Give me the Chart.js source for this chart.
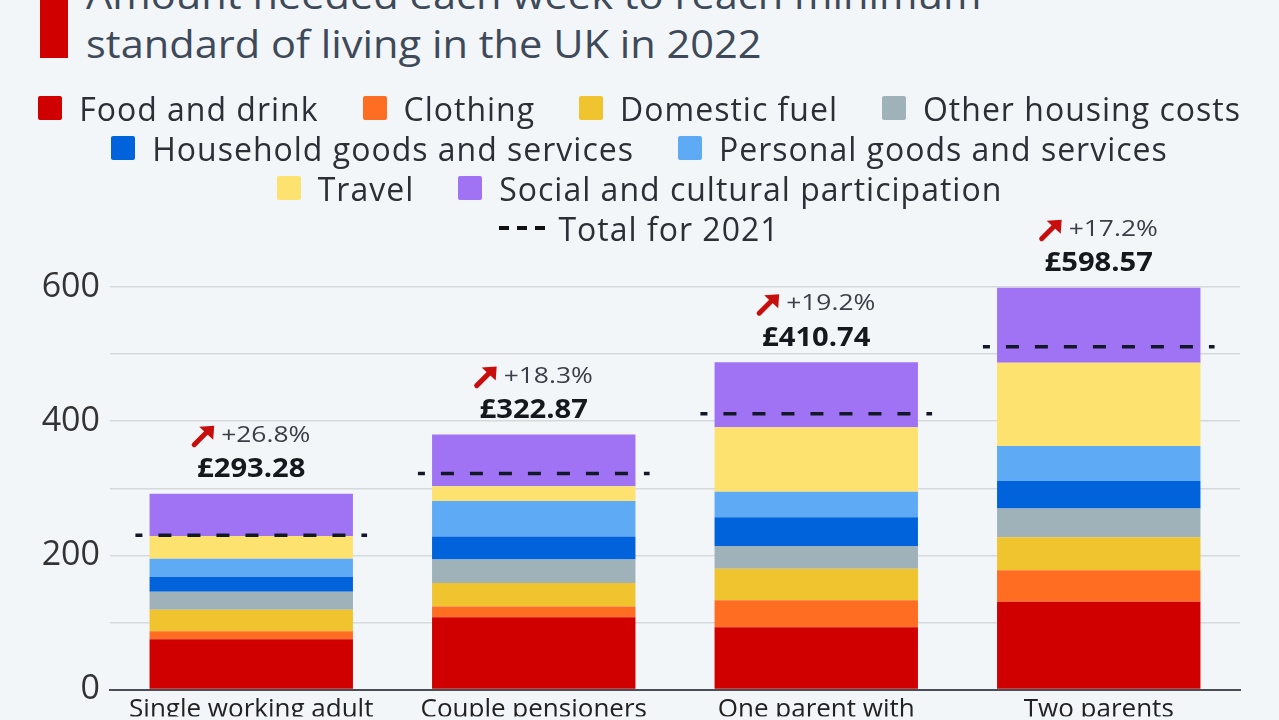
<!DOCTYPE html>
<html>
<head>
<meta charset="utf-8">
<script src="https://cdn.jsdelivr.net/npm/chart.js@4.4.1/dist/chart.umd.min.js"></script>
<style>
  html, body { margin: 0; padding: 0; background: #f3f6f9; }
  #page { position: relative; width: 1279px; height: 720px; overflow: hidden; font-family: "Open Sans", sans-serif; }
  #titleBar { position: absolute; left: 40px; top: 0; width: 28px; height: 58px; background: #d10000; }
  #title { position: absolute; left: 86px; top: -30px; font-size: 38px; line-height: 49px; color: #3e4a59; white-space: nowrap;
           transform: scaleX(1.094); transform-origin: left top; }
  #legend { position: absolute; left: 0; top: 88px; width: 1279px; z-index: 2; }
  .row { display: flex; justify-content: center; align-items: center; height: 40px; }
  .item { display: flex; align-items: center; margin: 0 22px; font-size: 32px; letter-spacing: 1px; color: #2b2f36; white-space: nowrap; }
  .swatch { width: 24px; height: 24px; margin-right: 17px; border-radius: 2px; }
  .dash { width: 46px; height: 4px; margin-right: 13px; background: repeating-linear-gradient(to right, #111 0 10px, transparent 10px 18px); }
  #chartBox { position: absolute; left: 0; top: 0; width: 1279px; height: 720px; }
</style>
</head>
<body>
<div id="page">
  <div id="titleBar"></div>
  <div id="title">Amount needed each week to reach minimum<br>standard of living in the UK in 2022</div>
  <div id="legend"></div>
  <div id="chartBox"><canvas id="chart"></canvas></div>
</div>
<script>
// categories (only first line of each label is visible in the picture)
const categories = ["Single working adult", "Couple pensioners", "One parent with", "Two parents"];

// weekly amounts per component
const foodAndDrink   = [75, 108, 93, 131];
const clothing       = [12, 16, 40, 47];
const domesticFuel   = [32, 35, 47, 49];
const otherHousing   = [27, 35, 34, 43];
const householdGoods = [22, 34, 43, 41];
const personalGoods  = [27, 53, 38, 52];
const travel         = [34, 22, 96, 124];
const socialCultural = [63, 77, 97, 112];

// labels above the bars and 2021 totals (dashed lines)
const totals2022 = [293.28, 322.87, 410.74, 598.57];
const changePct  = [26.8, 18.3, 19.2, 17.2];
const total2021  = [230, 322, 411, 511];

const yTicks = [0, 200, 400, 600];

const seriesNames = ["Food and drink", "Clothing", "Domestic fuel", "Other housing costs",
  "Household goods and services", "Personal goods and services", "Travel", "Social and cultural participation"];
const seriesValues = [foodAndDrink, clothing, domesticFuel, otherHousing, householdGoods, personalGoods, travel, socialCultural];
const seriesColors = ["#d10000", "#ff6d22", "#efc42e", "#9fb1b9", "#0063dc", "#5eaaf5", "#fde270", "#a073f5"];

/* =========================
   HTML LEGEND
========================= */
const legendRows = [[0, 1, 2, 3], [4, 5], [6, 7]];
const legend = document.getElementById("legend");
legendRows.forEach(r => {
  const row = document.createElement("div");
  row.className = "row";
  r.forEach(i => {
    row.innerHTML += `<div class="item"><span class="swatch" style="background:${seriesColors[i]}"></span>${seriesNames[i]}</div>`;
  });
  legend.appendChild(row);
});
const lastRow = document.createElement("div");
lastRow.className = "row";
lastRow.innerHTML = `<div class="item"><span class="dash"></span>Total for 2021</div>`;
legend.appendChild(lastRow);

/* =========================
   DASHED 2021 LINES + TOP LABELS
========================= */
const overlayPlugin = {
  id: "overlay",
  afterDatasetsDraw(chart) {
    const { ctx, scales: { x, y } } = chart;
    const catW = x.width / categories.length;

    categories.forEach((c, i) => {
      const cx = x.getPixelForValue(i);

      // dashed line for 2021 total
      const ly = y.getPixelForValue(total2021[i]);
      ctx.save();
      ctx.strokeStyle = "#111827";
      ctx.lineWidth = 3.5;
      ctx.setLineDash([13, 16]);
      ctx.lineDashOffset = 6;
      ctx.beginPath();
      ctx.moveTo(cx - catW * 0.41, ly);
      ctx.lineTo(cx + catW * 0.41, ly);
      ctx.stroke();
      ctx.restore();

      // top of stacked bar
      let sum = 0;
      seriesValues.forEach(s => sum += s[i]);
      const top = y.getPixelForValue(sum);

      // total value (text is a bit wide in the original)
      ctx.save();
      ctx.fillStyle = "#15181d";
      ctx.font = "bold 27px 'Open Sans'";
      ctx.textAlign = "center";
      ctx.textBaseline = "middle";
      ctx.translate(cx, top - 24);
      ctx.scale(1.08, 1);
      ctx.fillText("£" + totals2022[i].toFixed(2), 0, 0);
      ctx.restore();

      // arrow + change
      const txt = "+" + changePct[i].toFixed(1) + "%";
      const stretch = 1.2;
      ctx.save();
      ctx.font = "22px 'Open Sans'";
      ctx.textBaseline = "middle";
      const tw = ctx.measureText(txt).width * stretch;
      const aw = 22, gap = 7;
      const sx = cx - (aw + gap + tw) / 2;
      const py = top - 58;

      ctx.strokeStyle = "#c80d0d";
      ctx.fillStyle = "#c80d0d";
      ctx.lineWidth = 5;
      ctx.lineCap = "round";
      ctx.beginPath();
      ctx.moveTo(sx + 2, py + 9);
      ctx.lineTo(sx + 14, py - 3);
      ctx.stroke();
      ctx.beginPath();
      ctx.moveTo(sx + aw, py - 10);
      ctx.lineTo(sx + 7, py - 9);
      ctx.lineTo(sx + 21, py + 4);
      ctx.closePath();
      ctx.fill();

      ctx.fillStyle = "#3a3f47";
      ctx.textAlign = "left";
      ctx.translate(sx + aw + gap, py);
      ctx.scale(stretch, 1);
      ctx.fillText(txt, 0, 0);
      ctx.restore();
    });
  }
};

/* =========================
   CHART
========================= */
new Chart(document.getElementById("chart"), {
  type: "bar",
  data: {
    labels: categories,
    datasets: seriesNames.map((name, i) => ({
      label: name,
      data: seriesValues[i],
      backgroundColor: seriesColors[i],
      borderWidth: 0,
      barPercentage: 0.72,
      categoryPercentage: 1.0
    }))
  },
  options: {
    responsive: true,
    maintainAspectRatio: false,
    animation: false,
    events: [],
    layout: { padding: { top: 287, right: 39, left: 0, bottom: 0 } },
    plugins: {
      legend: { display: false },
      tooltip: { enabled: false },
      title: { display: false }
    },
    scales: {
      x: {
        stacked: true,
        grid: { display: false, drawTicks: false },
        border: { color: "#4a4f57", width: 2 },
        ticks: { color: "#222", font: { family: "Open Sans", size: 26 }, padding: 4, maxRotation: 0 },
        afterFit(scale) { scale.height = 27; }
      },
      y: {
        stacked: true,
        min: 0,
        max: 600,
        border: { display: false },
        grid: { color: "#d5d9de", lineWidth: 1.5, drawTicks: false },
        ticks: {
          stepSize: 100,
          color: "#333",
          font: { family: "Open Sans", size: 34 },
          padding: 10,
          callback: v => yTicks.includes(v) ? v : ""
        },
        afterFit(scale) { scale.width = 110; }
      }
    }
  },
  plugins: [overlayPlugin]
});
</script>
</body>
</html>
